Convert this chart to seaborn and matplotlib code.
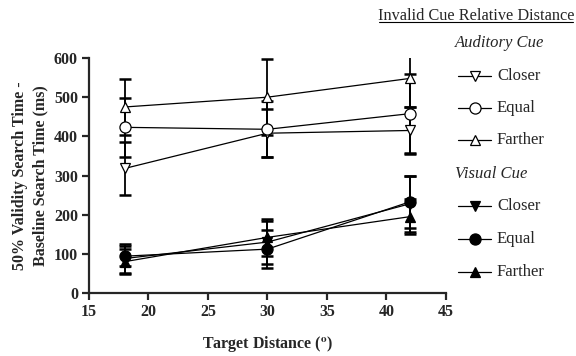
import numpy as np
import pandas as pd
import matplotlib
matplotlib.use("Agg")
import matplotlib.pyplot as plt
import seaborn as sns
from matplotlib.lines import Line2D

# target distances (deg)
distances = [18, 30, 42]

# auditory cue: mean and error per invalid cue relative distance
aud_closer = [318, 408, 415]
aud_closer_err = [68, 62, 60]
aud_equal = [423, 418, 458]
aud_equal_err = [75, 72, 100]
aud_farther = [475, 500, 548]
aud_farther_err = [72, 97, 73]

# visual cue
vis_closer = [88, 130, 228]
vis_closer_err = [36, 55, 72]
vis_equal = [94, 112, 233]
vis_equal_err = [25, 48, 67]
vis_farther = [80, 142, 195]
vis_farther_err = [32, 48, 45]

conditions = ["Closer", "Equal", "Farther"]

rows = []
for cue, means, errs in [
    ("Auditory", [aud_closer, aud_equal, aud_farther], [aud_closer_err, aud_equal_err, aud_farther_err]),
    ("Visual", [vis_closer, vis_equal, vis_farther], [vis_closer_err, vis_equal_err, vis_farther_err]),
]:
    for cond, m, e in zip(conditions, means, errs):
        for d, mv, ev in zip(distances, m, e):
            rows.append({"Cue": cue, "Condition": cond, "Distance": d, "Time": mv, "Err": ev})
df = pd.DataFrame(rows)

sns.set_style("ticks")
SERIF = ["Liberation Serif", "DejaVu Serif"]
plt.rcParams["font.family"] = SERIF
plt.rcParams["mathtext.fontset"] = "stix"

marker_map = {"Closer": "v", "Equal": "o", "Farther": "^"}
size_map = {"Closer": 7, "Equal": 8, "Farther": 7}

fig = plt.figure(figsize=(5.76, 3.56), dpi=100)
ax = fig.add_axes([0.1545, 0.177, 0.6195, 0.66])

for (cue, cond), sub in df.groupby(["Cue", "Condition"]):
    face = "white" if cue == "Auditory" else "black"
    ax.errorbar(sub["Distance"], sub["Time"], yerr=sub["Err"], fmt="none",
                ecolor="black", elinewidth=1.3, capsize=4, capthick=1.8, zorder=2)
    sns.lineplot(data=sub, x="Distance", y="Time", ax=ax, color="black",
                 linewidth=0.9, marker=marker_map[cond], markersize=size_map[cond],
                 markerfacecolor=face, markeredgecolor="black", markeredgewidth=0.9,
                 zorder=3)

ax.set_xlim(15, 45)
ax.set_ylim(0, 600)
ax.set_xticks([15, 20, 25, 30, 35, 40, 45])
ax.set_yticks([0, 100, 200, 300, 400, 500, 600])
sns.despine(ax=ax)
for s in ["left", "bottom"]:
    ax.spines[s].set_linewidth(1.6)
ax.tick_params(width=1.6, length=5, labelsize=11.5, pad=3)
for lab in ax.get_xticklabels() + ax.get_yticklabels():
    lab.set_fontweight("bold")
    lab.set_family(SERIF)

ax.set_xlabel(r"Target Distance ($^{\mathbf{o}}$)", fontsize=11.5, fontweight="bold",
              labelpad=10, family=SERIF)
ax.set_ylabel("50% Validity Search Time -\nBaseline Search Time (ms)", fontsize=11.5,
              fontweight="bold", labelpad=4, linespacing=1.35, family=SERIF)

# custom legend on the right
fig.text(476 / 576, 1 - 16 / 356, "Invalid Cue Relative Distance", fontsize=11.7,
         ha="center", va="center", family=SERIF)
fig.add_artist(Line2D([379 / 576, 573 / 576], [1 - 22 / 356, 1 - 22 / 356],
                      color="black", linewidth=0.8))

def legend_group(title, title_y, ys, face):
    fig.text(455 / 576, 1 - title_y / 356, title, fontsize=12, style="italic",
             ha="left", va="center", family=SERIF)
    for cond, y in zip(conditions, ys):
        yy = 1 - y / 356
        fig.add_artist(Line2D([458 / 576, 491 / 576], [yy, yy], color="black", linewidth=0.9))
        fig.add_artist(Line2D([475 / 576], [yy], marker=marker_map[cond], markersize=size_map[cond],
                              markerfacecolor=face, markeredgecolor="black",
                              markeredgewidth=0.9, linestyle="none"))
        fig.text(497 / 576, yy, cond, fontsize=12, ha="left", va="center", family=SERIF)

legend_group("Auditory Cue", 43, [76, 108, 140], "white")
legend_group("Visual Cue", 174, [206, 239, 272], "black")

fig.savefig("out.png", dpi=100)
